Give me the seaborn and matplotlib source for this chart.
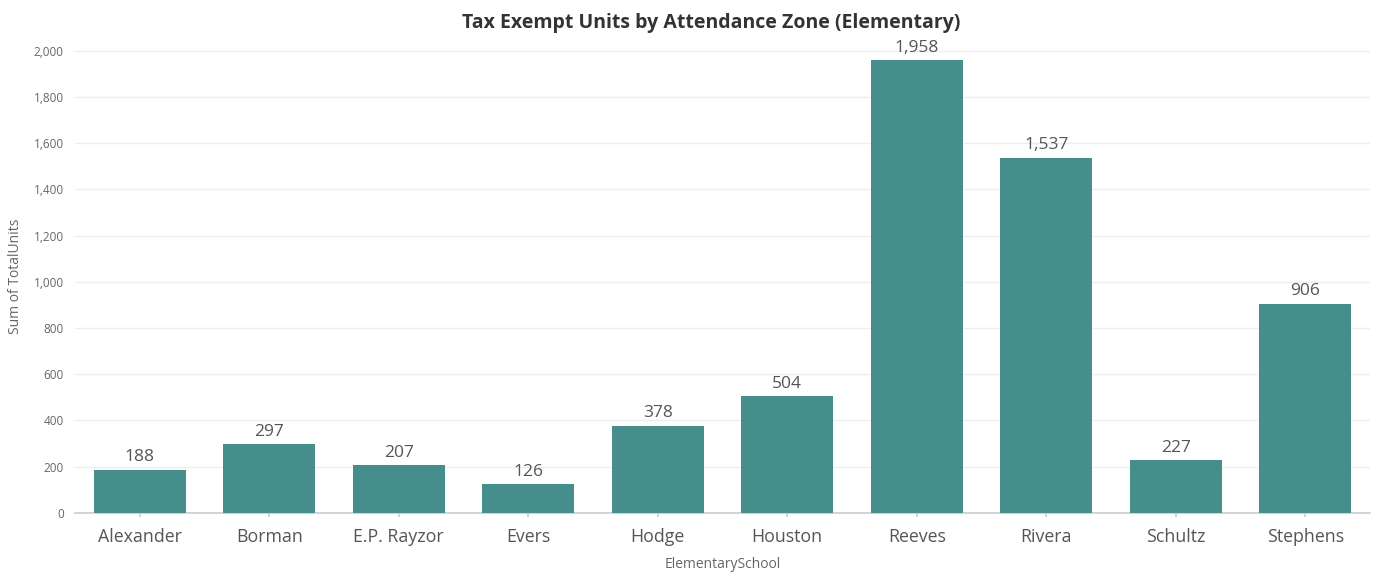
import matplotlib
matplotlib.use("Agg")
import matplotlib.pyplot as plt
import pandas as pd
import seaborn as sns

# data
schools = ["Alexander", "Borman", "E.P. Rayzor", "Evers", "Hodge",
           "Houston", "Reeves", "Rivera", "Schultz", "Stephens"]
units = [188, 297, 207, 126, 378, 504, 1958, 1537, 227, 906]
yticks = list(range(0, 2001, 200))

df = pd.DataFrame({"ElementarySchool": schools, "TotalUnits": units})

sns.set_theme(style="white")
plt.rcParams["font.family"] = ["Open Sans", "DejaVu Sans"]

fig = plt.figure(figsize=(13.81, 5.78), dpi=100)
ax = fig.add_axes([0.0543, 0.1125, 0.9377, 0.82])

sns.barplot(data=df, x="ElementarySchool", y="TotalUnits", color="#468E8B",
            saturation=1, width=0.71, ax=ax, zorder=3, linewidth=0)

for cont in ax.containers:
    ax.bar_label(cont, labels=[f"{v:,}" for v in units], padding=3,
                 fontsize=12.5, color="#555555")

ax.set_ylim(0, 2050)
ax.set_xlim(-0.5, len(schools) - 0.5)
ax.set_yticks(yticks)
ax.set_yticklabels([f"{t:,}" for t in yticks], fontsize=8.5, color="#666666")
ax.tick_params(axis="x", labelsize=12.8, labelcolor="#555555", length=3,
               color="#cccccc", pad=8, bottom=True)
ax.tick_params(axis="y", length=0, pad=8)
ax.yaxis.grid(True, color="#eeeeee", linewidth=1, zorder=0)

for s in ["top", "right", "left"]:
    ax.spines[s].set_visible(False)
ax.spines["bottom"].set_color("#cccccc")
ax.spines["bottom"].set_linewidth(1.2)

ax.set_xlabel("ElementarySchool", fontsize=10, color="#666666", labelpad=8)
ax.set_ylabel("Sum of TotalUnits", fontsize=10, color="#666666", labelpad=8)
fig.suptitle("Tax Exempt Units by Attendance Zone (Elementary)", x=0.515, y=0.978,
             fontsize=14, fontweight="bold", color="#333333")

fig.savefig("out.png", dpi=100)
